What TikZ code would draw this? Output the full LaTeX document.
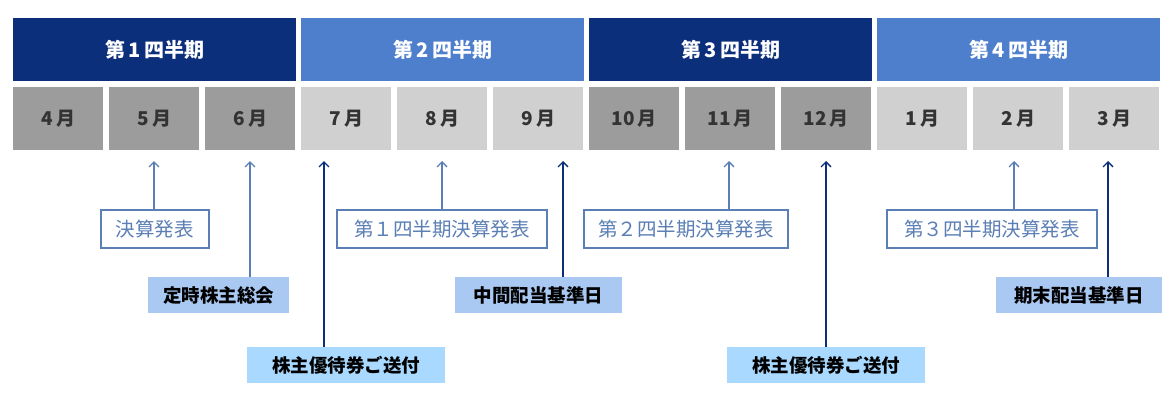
\documentclass[tikz,border=0pt]{standalone}
\usepackage{fontspec}
\setmainfont{Noto Sans CJK JP}
\usetikzlibrary{arrows.meta,positioning}
\definecolor{qdark}{HTML}{0B2F7A}
\definecolor{qlight}{HTML}{4E7FCC}
\definecolor{mdark}{HTML}{9C9C9C}
\definecolor{mlight}{HTML}{D0D0D0}
\definecolor{linkblue}{HTML}{5B7FB5}
\definecolor{fillA}{HTML}{A9C9F2}
\definecolor{fillB}{HTML}{A9D9FF}
\tikzset{
  quarter/.style={minimum width=283pt,minimum height=63pt,inner sep=0pt,text=white,font=\fontsize{20}{24}\selectfont\bfseries},
  month/.style={minimum width=90pt,minimum height=63pt,inner sep=0pt,text=black!80,font=\fontsize{19}{23}\selectfont\bfseries},
  outlabel/.style={draw=linkblue,line width=1.8pt,fill=white,text=linkblue,inner xsep=0pt,minimum height=38pt,font=\fontsize{19.5}{23}\selectfont},
  filllabel/.style={inner xsep=0pt,minimum height=36pt,font=\fontsize{18.5}{22}\selectfont\bfseries},
  up/.style={-{Straight Barb[length=5pt,width=10pt]},line width=1.3pt,draw=linkblue},
  updark/.style={up,draw=qdark}
}
\begin{document}
\begin{tikzpicture}[x=1pt,y=-1pt]
\useasboundingbox (0,0) rectangle (1174,408);
% quarters
\foreach \q/\c [count=\i from 0] in {1/qdark,2/qlight,3/qdark,4/qlight}
  \node[quarter,fill=\c,anchor=north west] (q\q) at (13+288*\i,18) {第\,\q\,四半期};
% months
\foreach \m/\c [count=\i from 0] in {4/mdark,5/mdark,6/mdark,7/mlight,8/mlight,9/mlight,10/mdark,11/mdark,12/mdark,1/mlight,2/mlight,3/mlight}
  \node[month,fill=\c,anchor=north west] (m\m) at (13+96*\i,87) {\m\,月};
% events
\node[outlabel,minimum width=108pt,anchor=north west] (kessan) at (100,209) {決算発表};
\node[filllabel,minimum width=141pt,fill=fillA,anchor=north west] (soukai) at (148,277) {定時株主総会};
\node[filllabel,minimum width=198pt,fill=fillB,anchor=north west] (yutai1) at (247,347) {株主優待券ご送付};
\node[outlabel,minimum width=210pt,anchor=north west] (kessan1) at (336,209) {第１四半期決算発表};
\node[filllabel,minimum width=167pt,fill=fillA,anchor=north west] (chukan) at (455,277) {中間配当基準日};
\node[outlabel,minimum width=204pt,anchor=north west] (kessan2) at (583,209) {第２四半期決算発表};
\node[filllabel,minimum width=198pt,fill=fillB,anchor=north west] (yutai2) at (727,347) {株主優待券ご送付};
\node[outlabel,minimum width=210pt,anchor=north west] (kessan3) at (886,209) {第３四半期決算発表};
\node[filllabel,minimum width=166pt,fill=fillA,anchor=north west] (kimatsu) at (996,277) {期末配当基準日};
% arrow tips
\foreach \n/\x in {t1/154,t2/250,t3/324,t4/442,t5/563,t6/729,t7/826,t8/1014,t9/1108}
  \coordinate (\n) at (\x,161);
\draw[up] (t1 |- kessan.north) -- (t1);
\draw[up] (t2 |- soukai.north) -- (t2);
\draw[updark] (t3 |- yutai1.north) -- (t3);
\draw[up] (t4 |- kessan1.north) -- (t4);
\draw[updark] (t5 |- chukan.north) -- (t5);
\draw[up] (t6 |- kessan2.north) -- (t6);
\draw[updark] (t7 |- yutai2.north) -- (t7);
\draw[up] (t8 |- kessan3.north) -- (t8);
\draw[updark] (t9 |- kimatsu.north) -- (t9);
\end{tikzpicture}
\end{document}
